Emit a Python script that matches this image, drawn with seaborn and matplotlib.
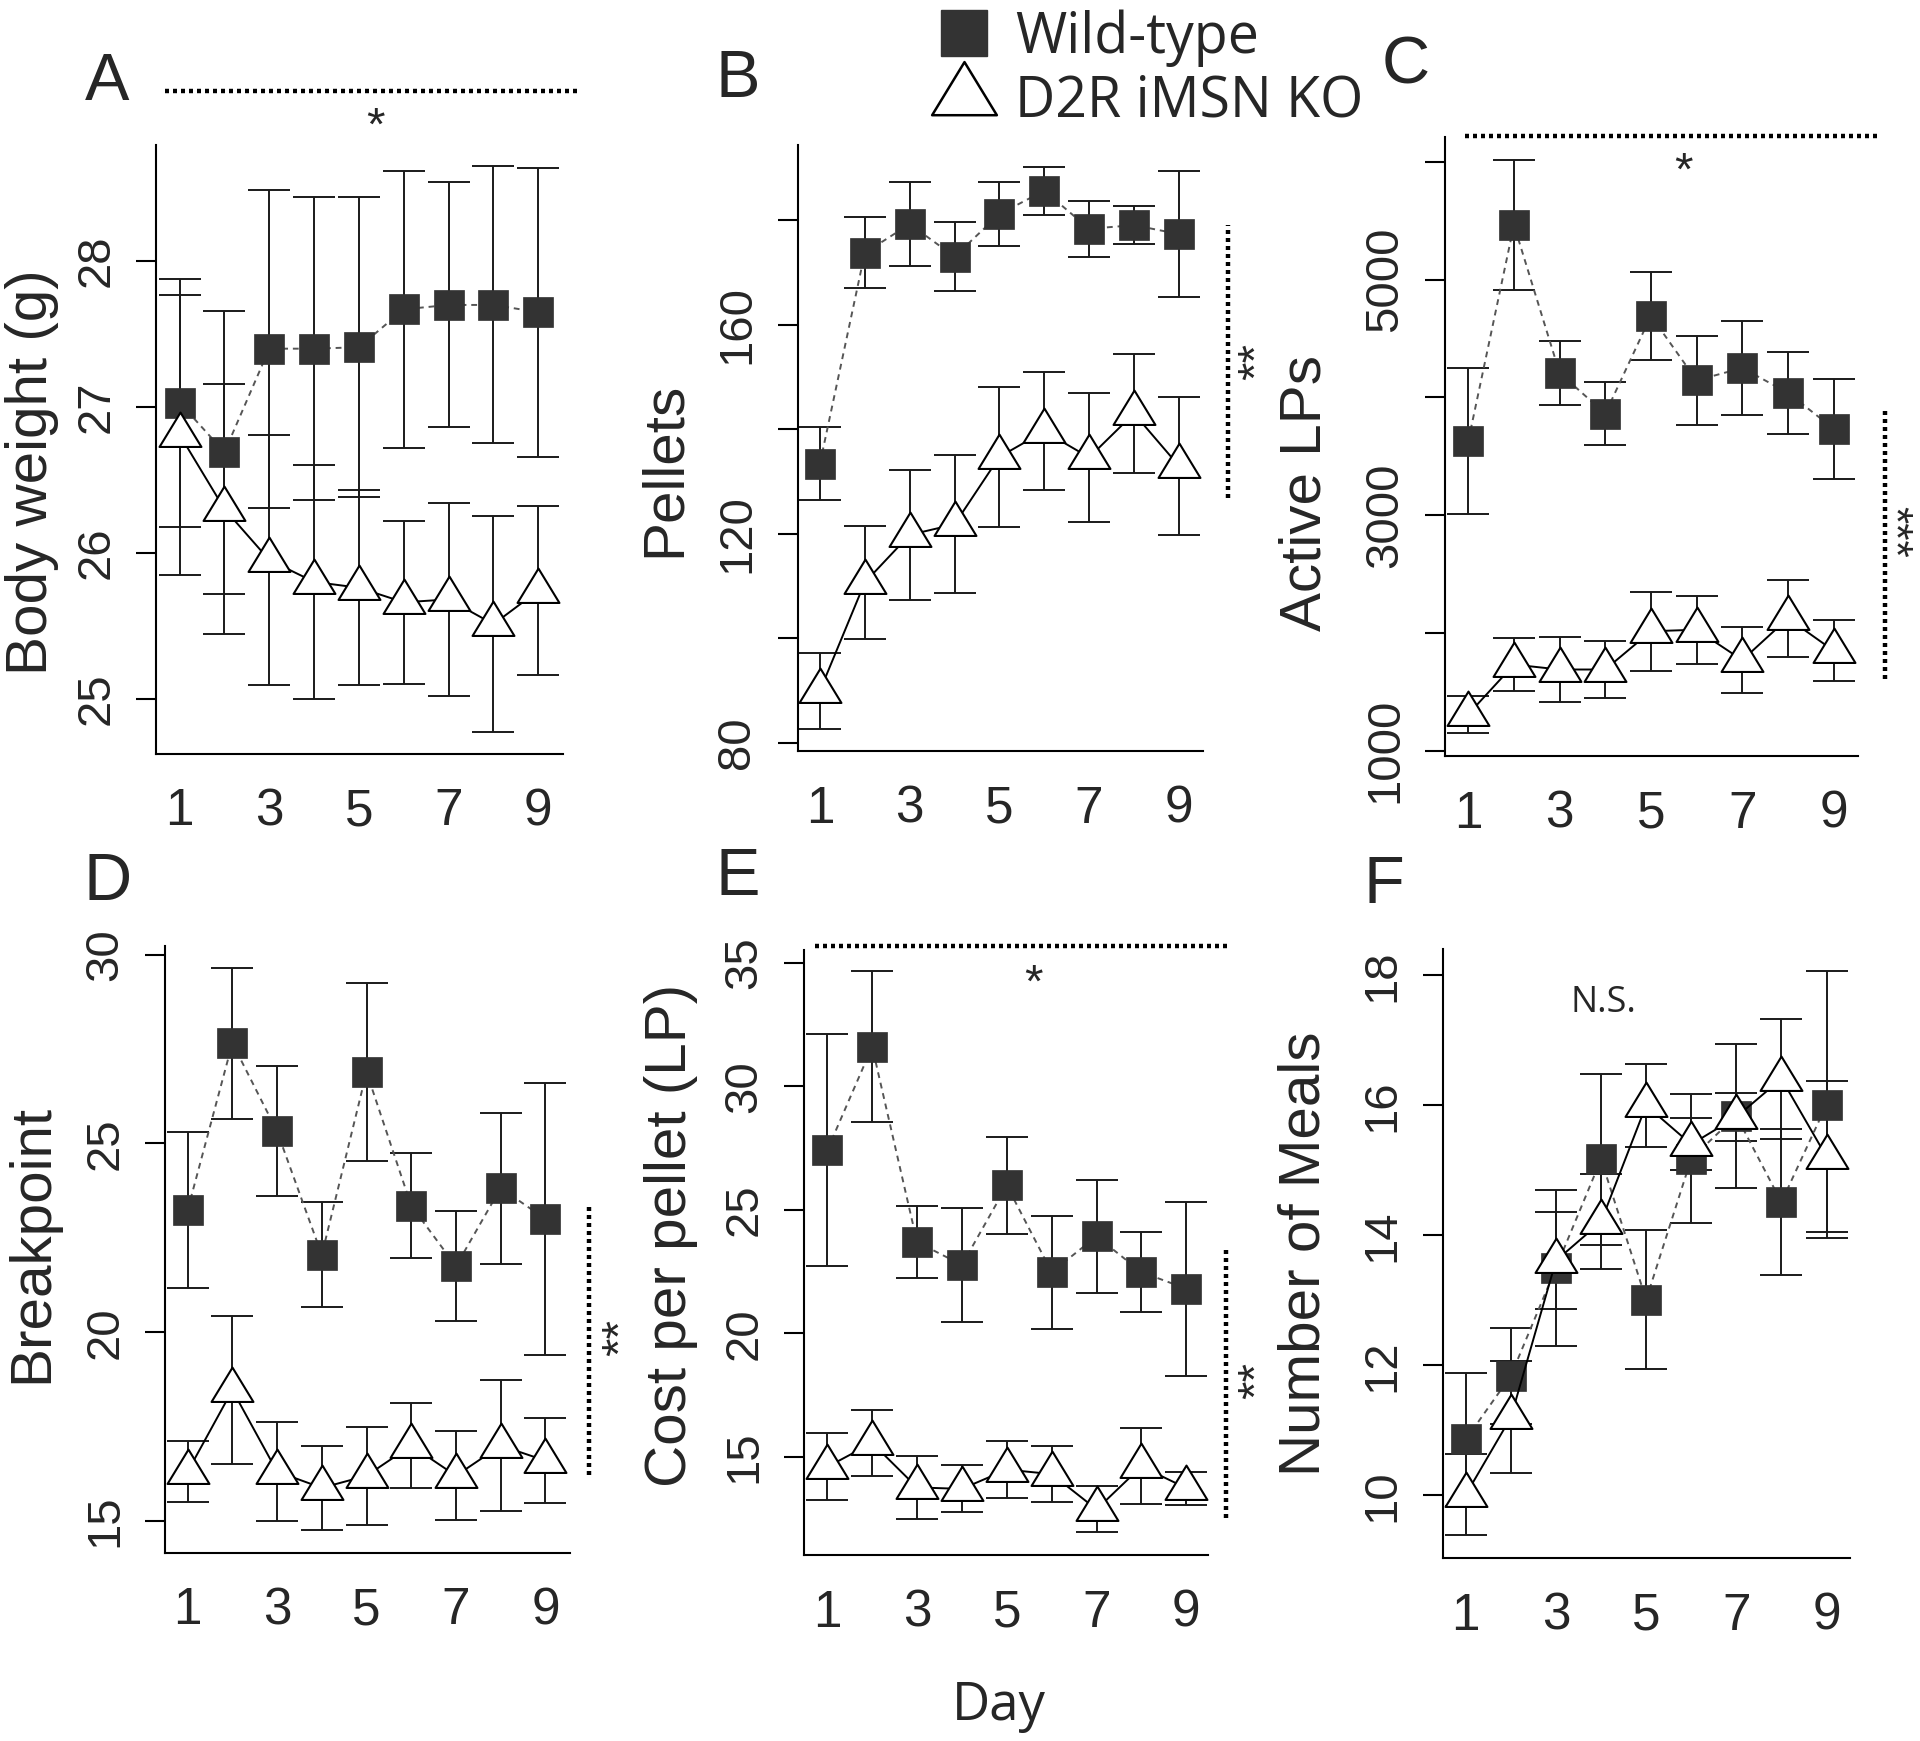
import numpy as np
import pandas as pd
import matplotlib
matplotlib.use("Agg")
import matplotlib.pyplot as plt
from matplotlib.path import Path
from matplotlib.lines import Line2D
import seaborn as sns

# ---------------- data ----------------
days = [1, 2, 3, 4, 5, 6, 7, 8, 9]
day_ticks = [1, 3, 5, 7, 9]
group_labels = ["Wild-type", "D2R iMSN KO"]

# A: body weight (g)
bw_wt = [27.03, 26.69, 27.40, 27.40, 27.41, 27.67, 27.70, 27.70, 27.65]
bw_wt_err = [0.85, 0.97, 1.09, 1.04, 1.03, 0.95, 0.84, 0.95, 0.99]
bw_ko = [26.81, 26.30, 25.95, 25.80, 25.76, 25.66, 25.68, 25.51, 25.74]
bw_ko_err = [0.96, 0.86, 0.86, 0.80, 0.67, 0.56, 0.66, 0.74, 0.58]

# B: pellets
pel_wt = [133.4, 173.7, 179.2, 173.0, 181.1, 185.6, 178.3, 179.0, 177.3]
pel_wt_err = [7.0, 6.8, 8.0, 6.6, 6.1, 4.6, 5.4, 3.6, 12.0]
pel_ko = [90.0, 110.7, 119.8, 121.8, 134.7, 139.6, 134.6, 143.0, 133.0]
pel_ko_err = [7.3, 10.8, 12.4, 13.2, 13.4, 11.3, 12.4, 11.4, 13.2]

# C: active lever presses
lp_wt = [3629, 5464, 4207, 3861, 4692, 4144, 4249, 4038, 3734]
lp_wt_err = [620, 553, 270, 270, 375, 380, 403, 350, 424]
lp_ko = [1308, 1730, 1688, 1688, 2013, 2026, 1768, 2123, 1848]
lp_ko_err = [158, 222, 280, 245, 335, 289, 280, 327, 257]

# D: breakpoint
bp_wt = [23.24, 27.66, 25.32, 22.05, 26.89, 23.35, 21.75, 23.82, 23.00]
bp_wt_err = [2.07, 2.00, 1.72, 1.39, 2.36, 1.39, 1.45, 2.00, 3.60]
bp_ko = [16.31, 18.47, 16.31, 15.88, 16.20, 17.00, 16.20, 17.00, 16.60]
bp_ko_err = [0.81, 1.97, 1.31, 1.11, 1.30, 1.13, 1.18, 1.73, 1.13]

# E: cost per pellet (LP)
cost_wt = [27.42, 31.61, 23.70, 22.77, 25.99, 22.48, 23.93, 22.48, 21.81]
cost_wt_err = [4.71, 3.06, 1.45, 2.31, 1.97, 2.29, 2.28, 1.61, 3.52]
cost_ko = [14.59, 15.56, 13.76, 13.70, 14.48, 14.30, 12.87, 14.61, 13.73]
cost_ko_err = [1.36, 1.34, 1.26, 0.95, 1.16, 1.14, 0.93, 1.54, 0.67]

# F: number of meals
meal_wt = [10.86, 11.84, 13.50, 15.17, 13.01, 15.18, 15.84, 14.51, 16.01]
meal_wt_err = [1.03, 0.74, 1.20, 1.32, 1.07, 0.99, 1.11, 1.12, 2.05]
meal_ko = [10.01, 11.20, 13.61, 14.21, 16.00, 15.40, 15.82, 16.41, 15.21]
meal_ko_err = [0.62, 0.86, 0.75, 0.73, 0.64, 0.40, 0.37, 0.92, 1.16]

# y tick values and which are labelled
bw_ticks = [25, 26, 27, 28]
bw_ticklabels = ["25", "26", "27", "28"]
pel_ticks = [80, 100, 120, 140, 160, 180]
pel_ticklabels = ["80", "", "120", "", "160", ""]
lp_ticks = [1000, 2000, 3000, 4000, 5000, 6000]
lp_ticklabels = ["1000", "", "3000", "", "5000", ""]
bp_ticks = [15, 20, 25, 30]
bp_ticklabels = ["15", "20", "25", "30"]
cost_ticks = [15, 20, 25, 30, 35]
cost_ticklabels = ["15", "20", "25", "30", "35"]
meal_ticks = [10, 12, 14, 16, 18]
meal_ticklabels = ["10", "12", "14", "16", "18"]

# ---------------- style ----------------
sns.set_style("ticks")
plt.rcParams['font.family'] = ['Liberation Sans', 'DejaVu Sans']
plt.rcParams['axes.linewidth'] = 1.5

W, H = 1920, 1741
fig = plt.figure(figsize=(W / 100, H / 100), dpi=100)

# triangle marker centred on its centroid (like R pch=2)
tri = Path([(-1, -0.547), (1, -0.547), (0, 1.094), (-1, -0.547)],
           [Path.MOVETO, Path.LINETO, Path.LINETO, Path.CLOSEPOLY])

SQ_COLOR = "#333333"
ERR_COLOR = "#1a1a1a"
OPEN = "Open Sans"


def rect(left, top, right, bottom):
    return [left / W, 1 - bottom / H, (right - left) / W, (bottom - top) / H]


panels = [
    dict(letter="A", lpos=(107, 83), ylabel="Body weight (g)",
         wt=bw_wt, wte=bw_wt_err, ko=bw_ko, koe=bw_ko_err,
         ticks=bw_ticks, ticklabels=bw_ticklabels,
         ylim=(24.62, 28.80), xlim=(0.48, 9.55),
         box=(156.3, 144.6, 563.0, 753.9), ylab=(-0.305, 0.463),
         hline=(0.021, 1.041, 1.088), hstar=(0.538, 1.028),
         vline=None),
    dict(letter="B", lpos=(738, 80), ylabel="Pellets",
         wt=pel_wt, wte=pel_wt_err, ko=pel_ko, koe=pel_ko_err,
         ticks=pel_ticks, ticklabels=pel_ticklabels,
         ylim=(78.4, 194.4), xlim=(0.5, 9.53),
         box=(797.5, 144.6, 1202.6, 751.4), ylab=(-0.327, 0.464),
         hline=None, vline=(1.063, 0.418, 0.867),
         vstar=("**", 1.136, 0.643, 90, 34)),
    dict(letter="C", lpos=(1406, 67), ylabel="Active LPs",
         wt=lp_wt, wte=lp_wt_err, ko=lp_ko, koe=lp_ko_err,
         ticks=lp_ticks, ticklabels=lp_ticklabels,
         ylim=(950, 6211), xlim=(0.49, 9.53),
         box=(1445.0, 137.0, 1857.8, 756.4), ylab=(-0.339, 0.426),
         hline=(0.048, 1.052, 1.002), hstar=(0.577, 0.942),
         vline=(1.067, 0.125, 0.558),
         vstar=("***", 1.0845, 0.362, 270, 32)),
    dict(letter="D", lpos=(108, 883), ylabel="Breakpoint",
         wt=bp_wt, wte=bp_wt_err, ko=bp_ko, koe=bp_ko_err,
         ticks=bp_ticks, ticklabels=bp_ticklabels,
         ylim=(14.16, 30.24), xlim=(0.5, 9.55),
         box=(165.3, 945.6, 570.0, 1552.8), ylab=(-0.328, 0.510),
         hline=None, vline=(1.047, 0.128, 0.576),
         vstar=("**", 1.128, 0.355, 90, 34)),
    dict(letter="E", lpos=(738, 878), ylabel="Cost per pellet (LP)",
         wt=cost_wt, wte=cost_wt_err, ko=cost_ko, koe=cost_ko_err,
         ticks=cost_ticks, ticklabels=cost_ticklabels,
         ylim=(11.01, 35.54), xlim=(0.49, 9.49),
         box=(804.4, 949.7, 1208.3, 1555.3), ylab=(-0.330, 0.529),
         hline=(0.026, 1.049, 1.006), hstar=(0.566, 0.942),
         vline=(1.044, 0.061, 0.507),
         vstar=("**", 1.123, 0.288, 90, 34)),
    dict(letter="F", lpos=(1384, 886), ylabel="Number of Meals",
         wt=meal_wt, wte=meal_wt_err, ko=meal_ko, koe=meal_ko_err,
         ticks=meal_ticks, ticklabels=meal_ticklabels,
         ylim=(9.03, 18.41), xlim=(0.49, 9.51),
         box=(1442.8, 948.7, 1849.5, 1558.4), ylab=(-0.339, 0.499),
         hline=None, vline=None, ns=(4.06, 17.57)),
]

for p in panels:
    ax = fig.add_axes(rect(*p["box"]))
    df_wt = pd.DataFrame({"Day": days, "value": p["wt"], "err": p["wte"]})
    df_ko = pd.DataFrame({"Day": days, "value": p["ko"], "err": p["koe"]})

    # error bars
    for d in (df_wt, df_ko):
        ax.errorbar(d["Day"], d["value"], yerr=d["err"], fmt="none",
                    ecolor=ERR_COLOR, elinewidth=1.4, capsize=15, capthick=1.4,
                    zorder=2)

    # wild-type: filled squares, dashed grey line
    sns.lineplot(data=df_wt, x="Day", y="value", ax=ax, estimator=None,
                 errorbar=None, color="#555555", linestyle=(0, (3, 2.5)),
                 linewidth=1.4, marker="s", markersize=22,
                 markerfacecolor=SQ_COLOR, markeredgecolor=SQ_COLOR,
                 markeredgewidth=0.5, zorder=3)
    # KO: open triangles, solid black line
    sns.lineplot(data=df_ko, x="Day", y="value", ax=ax, estimator=None,
                 errorbar=None, color="black", linestyle="-", linewidth=1.4,
                 marker=tri, markersize=33, markerfacecolor="white",
                 markeredgecolor="black", markeredgewidth=1.5, zorder=4)

    ax.set_xlim(*p["xlim"])
    ax.set_ylim(*p["ylim"])
    ax.set_xticks(day_ticks)
    ax.set_xticklabels([str(d) for d in day_ticks])
    ax.set_yticks(p["ticks"])
    ax.set_yticklabels(p["ticklabels"], rotation=90, va="center")
    ax.tick_params(axis="x", length=0, pad=24, labelsize=37)
    ax.tick_params(axis="y", length=14.4, width=1.5, pad=13, labelsize=34,
                   color="black")
    for s in ["top", "right"]:
        ax.spines[s].set_visible(False)
    for s in ["left", "bottom"]:
        ax.spines[s].set_color("black")
        ax.spines[s].set_linewidth(1.5)
    ax.set_xlabel("")
    ax.set_ylabel(p["ylabel"], fontsize=42, va="center")
    ax.yaxis.set_label_coords(*p["ylab"])

    dot_kw = dict(color="black", linewidth=3.2, linestyle=(0, (0.9, 0.9)),
                  transform=ax.transAxes, clip_on=False, zorder=5)
    if p.get("hline"):
        x0, x1, yy = p["hline"]
        ax.add_line(Line2D([x0, x1], [yy, yy], **dot_kw))
        ax.text(p["hstar"][0], p["hstar"][1], "*", transform=ax.transAxes,
                ha="center", va="center", fontsize=34)
    if p.get("vline"):
        xx, y0, y1 = p["vline"]
        ax.add_line(Line2D([xx, xx], [y0, y1], **dot_kw))
        txt, sx, sy, rot, fs = p["vstar"]
        ax.text(sx, sy, txt, transform=ax.transAxes, rotation=rot,
                ha="center", va="center", fontsize=fs)
    if p.get("ns"):
        ax.text(p["ns"][0], p["ns"][1], "N.S.", family=[OPEN, "DejaVu Sans"],
                fontsize=26, ha="center", va="center")

    fig.text(p["lpos"][0] / W, 1 - p["lpos"][1] / H, p["letter"],
             fontsize=48, ha="center", va="center")

# legend
h_wt = Line2D([], [], linestyle="none", marker="s", markersize=33,
              markerfacecolor=SQ_COLOR, markeredgecolor=SQ_COLOR)
h_ko = Line2D([], [], linestyle="none", marker=tri, markersize=51,
              markerfacecolor="white", markeredgecolor="black",
              markeredgewidth=1.8)
fig.legend([h_wt, h_ko], group_labels, loc="center left",
           bbox_to_anchor=(932 / W, 1 - 70 / H), frameon=False,
           prop={"family": OPEN, "size": 40}, handlelength=1.15,
           handletextpad=0.35, borderpad=0, borderaxespad=0,
           labelspacing=0.12)

fig.text(999 / W, 1 - 1720 / H, "Day", family=[OPEN, "DejaVu Sans"],
         fontsize=38, ha="center", va="baseline")

fig.savefig("out.png", dpi=100)
